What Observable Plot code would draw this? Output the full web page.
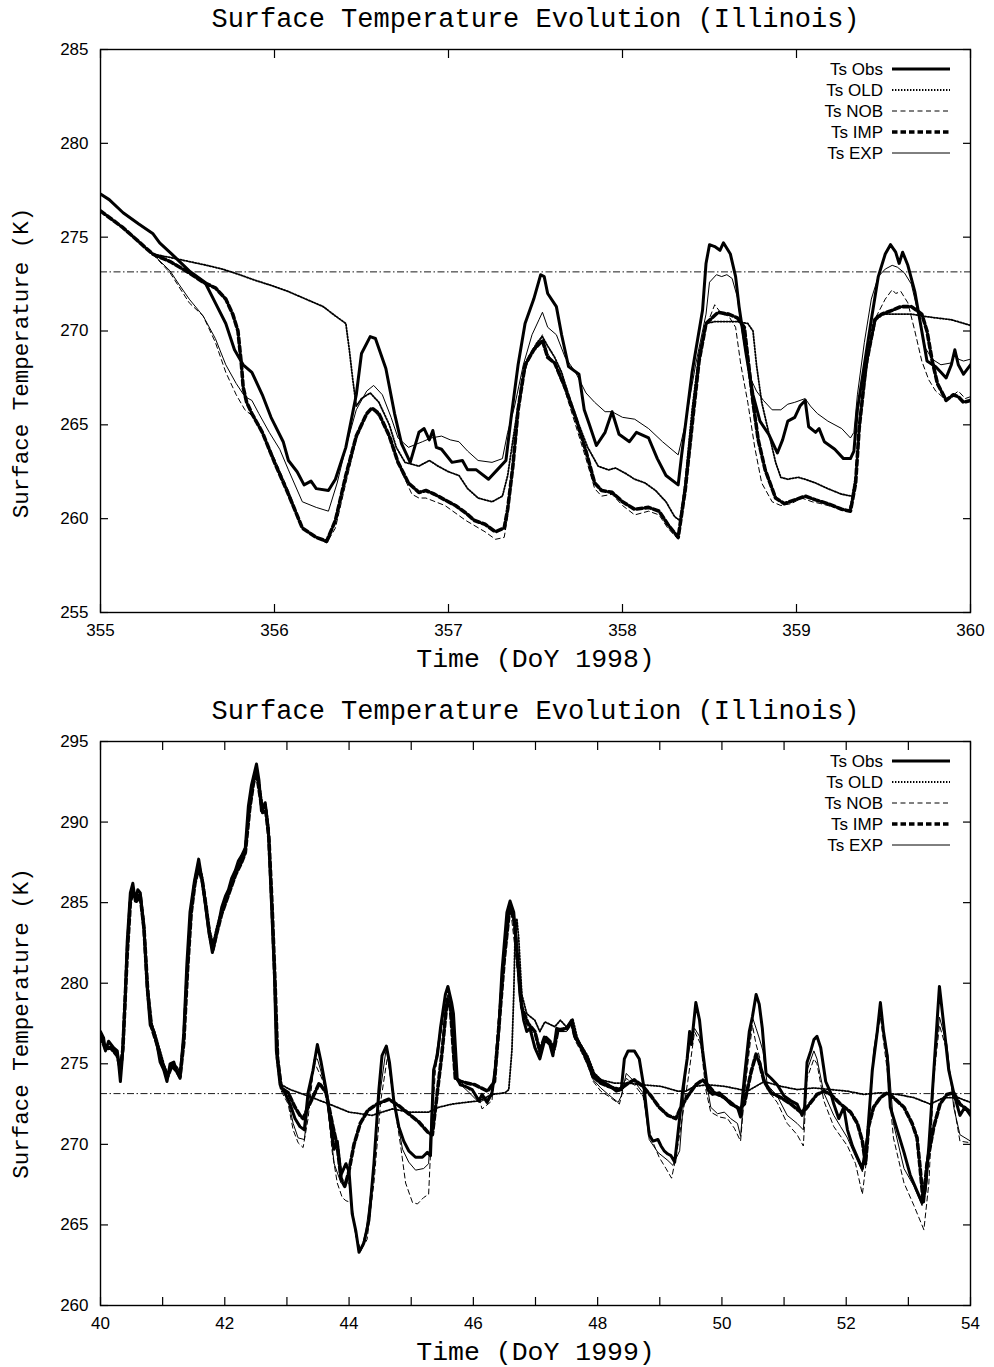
<!DOCTYPE html>
<html><head><meta charset="utf-8">
<script src="https://cdn.jsdelivr.net/npm/d3@7"></script>
<script src="https://cdn.jsdelivr.net/npm/@observablehq/plot@0.6"></script>
<style>body{margin:0;background:#fff} svg{display:block}</style>
</head><body><div id="c"></div>
<script>
// ---------- DATA ----------
const seriesNames = ["Ts Obs", "Ts OLD", "Ts NOB", "Ts IMP", "Ts EXP"];
const freezingK = 273.15;

// Panel 1 : DoY 355-360, 1998
const topXTicks = [355, 356, 357, 358, 359, 360];
const topYTicks = [255, 260, 265, 270, 275, 280, 285];
const topObs = [[355.00,277.3],[355.05,277.0],[355.13,276.3],[355.22,275.7],[355.30,275.2],[355.34,274.7],[355.41,274.1],[355.51,273.2],[355.60,272.6],[355.66,271.5],[355.72,270.4],[355.77,269.0],[355.82,268.2],[355.87,267.8],[355.93,266.6],[355.98,265.4],[356.05,264.1],[356.08,263.1],[356.13,262.5],[356.17,261.8],[356.21,262.0],[356.24,261.6],[356.31,261.5],[356.35,262.1],[356.41,263.8],[356.47,266.6],[356.50,268.8],[356.55,269.7],[356.58,269.6],[356.64,268.0],[356.69,265.6],[356.73,264.0],[356.78,263.0],[356.83,264.6],[356.86,264.8],[356.89,264.2],[356.91,264.7],[356.93,263.8],[356.96,263.7],[357.02,263.0],[357.08,263.1],[357.11,262.6],[357.16,262.6],[357.23,262.1],[357.28,262.6],[357.33,263.1],[357.36,265.4],[357.40,268.2],[357.44,270.4],[357.49,271.7],[357.53,273.0],[357.55,272.9],[357.57,272.0],[357.62,271.3],[357.65,269.8],[357.69,268.1],[357.75,267.7],[357.78,265.8],[357.81,265.0],[357.85,263.9],[357.90,264.6],[357.94,265.7],[357.98,264.5],[358.04,264.1],[358.08,264.6],[358.15,264.3],[358.20,263.2],[358.25,262.3],[358.32,261.8],[358.34,263.4],[358.40,267.8],[358.46,271.1],[358.48,273.6],[358.50,274.6],[358.53,274.5],[358.56,274.3],[358.58,274.7],[358.62,274.1],[358.65,272.9],[358.67,271.3],[358.71,268.8],[358.75,266.6],[358.79,265.2],[358.84,264.5],[358.89,263.5],[358.92,264.2],[358.95,265.2],[358.99,265.4],[359.02,266.0],[359.05,266.3],[359.07,264.9],[359.11,264.6],[359.13,264.8],[359.16,264.1],[359.22,263.7],[359.27,263.2],[359.31,263.2],[359.33,263.6],[359.35,265.8],[359.39,268.2],[359.43,270.6],[359.47,272.9],[359.51,274.1],[359.54,274.6],[359.57,274.2],[359.59,273.6],[359.61,274.2],[359.64,273.5],[359.68,272.1],[359.72,270.0],[359.75,268.4],[359.80,268.1],[359.83,267.8],[359.86,267.5],[359.89,268.2],[359.91,269.0],[359.93,268.2],[359.96,267.7],[360.00,268.2]];
const topOLD = [[355.00,276.4],[355.13,275.5],[355.30,274.1],[355.41,273.9],[355.51,273.7],[355.61,273.5],[355.70,273.3],[355.80,273.0],[355.89,272.7],[355.99,272.4],[356.08,272.1],[356.18,271.7],[356.28,271.3],[356.35,270.8],[356.41,270.4],[356.43,269.0],[356.45,267.4],[356.47,266.0],[356.50,266.4],[356.55,266.7],[356.60,266.2],[356.66,265.0],[356.70,263.8],[356.75,263.0],[356.83,262.8],[356.89,263.1],[356.94,262.8],[357.00,262.5],[357.06,262.3],[357.11,261.6],[357.17,261.1],[357.25,260.9],[357.31,261.2],[357.34,262.3],[357.38,264.8],[357.42,267.2],[357.46,268.6],[357.51,269.4],[357.54,269.7],[357.57,269.2],[357.61,268.6],[357.65,267.8],[357.69,266.6],[357.75,265.0],[357.80,263.8],[357.86,262.8],[357.92,262.6],[357.96,262.7],[358.02,262.4],[358.07,262.1],[358.13,261.9],[358.19,261.5],[358.25,260.9],[358.30,260.1],[358.33,259.9],[358.36,261.9],[358.40,265.8],[358.44,268.8],[358.48,270.4],[358.53,270.5],[358.61,270.5],[358.66,270.5],[358.72,270.4],[358.75,270.0],[358.77,268.2],[358.80,266.2],[358.84,264.6],[358.88,263.0],[358.91,262.2],[358.95,262.1],[359.01,262.2],[359.05,262.1],[359.11,261.9],[359.18,261.6],[359.26,261.3],[359.32,261.2],[359.34,262.3],[359.37,265.8],[359.41,268.6],[359.46,270.8],[359.51,270.9],[359.58,270.9],[359.66,270.9],[359.72,270.8],[359.80,270.7],[359.89,270.6],[360.00,270.3]];
const topNOB = [[355.00,276.4],[355.13,275.5],[355.30,274.1],[355.40,273.1],[355.51,271.5],[355.59,270.8],[355.66,269.4],[355.72,267.8],[355.78,266.6],[355.83,265.8],[355.87,265.5],[355.93,264.6],[356.00,263.2],[356.08,261.5],[356.16,259.5],[356.24,259.0],[356.30,258.7],[356.35,259.5],[356.41,261.9],[356.47,264.2],[356.53,265.6],[356.56,265.9],[356.62,265.2],[356.68,263.8],[356.73,262.5],[356.79,261.3],[356.83,261.1],[356.87,261.1],[356.98,260.7],[357.10,259.9],[357.21,259.3],[357.27,258.9],[357.32,259.0],[357.34,260.1],[357.37,262.6],[357.40,265.6],[357.44,268.0],[357.49,269.0],[357.54,269.8],[357.57,268.8],[357.61,268.2],[357.67,266.8],[357.73,265.0],[357.79,263.2],[357.84,261.6],[357.88,261.2],[357.94,261.3],[358.00,260.7],[358.07,260.2],[358.15,260.4],[358.21,260.2],[358.26,259.5],[358.32,258.9],[358.36,261.3],[358.40,264.8],[358.44,268.2],[358.48,270.2],[358.53,271.4],[358.57,270.9],[358.61,270.8],[358.65,270.2],[358.68,268.2],[358.72,266.2],[358.76,263.8],[358.80,261.9],[358.86,260.9],[358.91,260.7],[358.97,260.8],[359.03,261.1],[359.09,260.9],[359.14,260.8],[359.22,260.6],[359.30,260.4],[359.34,261.9],[359.37,265.8],[359.42,269.0],[359.46,270.8],[359.51,271.7],[359.55,272.2],[359.57,272.0],[359.60,272.1],[359.64,271.5],[359.68,270.0],[359.72,268.4],[359.76,267.4],[359.80,266.8],[359.85,266.4],[359.89,266.5],[359.93,266.8],[359.97,266.4],[360.00,266.5]];
const topIMP = [[355.00,276.4],[355.13,275.5],[355.30,274.1],[355.40,273.7],[355.51,273.1],[355.59,272.6],[355.66,272.3],[355.72,271.7],[355.76,270.9],[355.79,270.0],[355.81,268.2],[355.82,267.0],[355.84,266.2],[355.87,265.6],[355.93,264.6],[356.00,263.0],[356.08,261.3],[356.16,259.5],[356.24,259.0],[356.30,258.8],[356.35,259.9],[356.41,262.3],[356.47,264.4],[356.53,265.6],[356.56,265.9],[356.60,265.6],[356.66,264.4],[356.71,263.0],[356.77,261.9],[356.83,261.4],[356.87,261.5],[356.92,261.3],[356.98,261.0],[357.04,260.7],[357.10,260.3],[357.15,259.9],[357.21,259.7],[357.27,259.3],[357.32,259.5],[357.34,260.5],[357.37,262.8],[357.40,265.8],[357.44,268.2],[357.49,269.0],[357.54,269.5],[357.57,268.6],[357.61,268.3],[357.67,267.0],[357.73,265.4],[357.79,263.6],[357.84,261.9],[357.88,261.5],[357.94,261.4],[358.00,260.9],[358.07,260.5],[358.15,260.6],[358.21,260.4],[358.26,259.7],[358.32,259.0],[358.36,261.5],[358.40,265.0],[358.44,268.4],[358.48,270.4],[358.55,271.0],[358.61,270.9],[358.66,270.7],[358.70,270.2],[358.72,268.6],[358.75,266.2],[358.78,264.2],[358.82,262.6],[358.88,261.1],[358.93,260.8],[358.99,261.0],[359.05,261.2],[359.11,261.0],[359.18,260.8],[359.26,260.5],[359.31,260.4],[359.34,261.9],[359.36,264.8],[359.40,268.2],[359.45,270.6],[359.49,270.9],[359.55,271.1],[359.60,271.3],[359.66,271.3],[359.72,270.9],[359.75,270.0],[359.78,268.4],[359.81,267.2],[359.86,266.3],[359.90,266.6],[359.93,266.5],[359.96,266.2],[360.00,266.3]];
const topEXP = [[355.00,276.4],[355.13,275.5],[355.30,274.1],[355.40,273.2],[355.45,272.5],[355.51,271.7],[355.59,270.8],[355.66,269.6],[355.72,268.2],[355.78,267.2],[355.83,266.5],[355.87,266.3],[355.91,265.6],[355.97,264.6],[356.03,263.7],[356.08,262.6],[356.16,260.9],[356.24,260.6],[356.31,260.4],[356.36,261.9],[356.41,263.8],[356.47,265.8],[356.53,266.8],[356.57,267.1],[356.62,266.6],[356.67,265.4],[356.71,264.3],[356.77,263.8],[356.85,264.1],[356.90,264.3],[356.96,264.4],[357.01,264.2],[357.06,264.1],[357.11,263.6],[357.17,263.1],[357.25,263.0],[357.31,263.2],[357.34,264.6],[357.38,266.0],[357.43,268.2],[357.48,269.8],[357.52,270.6],[357.54,271.0],[357.57,270.2],[357.62,269.8],[357.67,268.6],[357.73,267.8],[357.79,266.7],[357.84,266.2],[357.90,265.7],[357.94,265.7],[358.00,265.4],[358.07,265.3],[358.15,264.8],[358.23,264.1],[358.32,263.4],[358.36,265.0],[358.42,268.2],[358.48,270.9],[358.50,272.6],[358.54,273.0],[358.57,272.9],[358.60,273.0],[358.63,272.8],[358.66,271.8],[358.69,269.8],[358.73,267.6],[358.77,266.8],[358.81,266.3],[358.86,265.8],[358.91,265.8],[358.95,266.1],[358.99,266.2],[359.05,266.4],[359.08,266.0],[359.12,265.6],[359.18,265.2],[359.26,264.8],[359.31,264.3],[359.33,264.6],[359.35,266.6],[359.39,269.4],[359.43,271.7],[359.47,272.9],[359.51,273.3],[359.55,273.5],[359.58,273.4],[359.62,273.1],[359.66,272.5],[359.70,270.9],[359.74,269.1],[359.78,268.5],[359.83,268.2],[359.89,268.3],[359.91,268.9],[359.93,268.5],[359.96,268.4],[360.00,268.5]];

// Panel 2 : DoY 40-54, 1999
const botXTicks = [40,41,42,43,44,45,46,47,48,49,50,51,52,53,54];
const botXLabels = [40, 42, 44, 46, 48, 50, 52, 54];
const botYTicks = [260, 265, 270, 275, 280, 285, 290, 295];
const botObs = [[40.00,277.0],[40.05,276.6],[40.08,275.8],[40.13,276.4],[40.21,276.0],[40.27,275.8],[40.29,275.1],[40.32,273.9],[40.35,275.3],[40.40,279.3],[40.43,282.6],[40.48,285.6],[40.52,286.2],[40.56,285.1],[40.60,285.8],[40.64,285.6],[40.70,283.3],[40.75,279.8],[40.80,277.4],[40.86,277.0],[40.91,276.2],[40.96,275.1],[41.02,274.6],[41.07,273.9],[41.12,275.0],[41.18,275.1],[41.23,274.5],[41.28,274.1],[41.34,276.9],[41.39,281.2],[41.44,284.4],[41.51,286.3],[41.58,287.7],[41.63,286.5],[41.68,285.1],[41.74,283.3],[41.80,281.9],[41.84,282.6],[41.90,283.7],[41.95,284.7],[42.01,285.4],[42.06,285.8],[42.11,286.5],[42.17,287.0],[42.22,287.6],[42.27,287.9],[42.33,288.4],[42.38,291.0],[42.43,292.3],[42.51,293.6],[42.55,292.6],[42.59,290.7],[42.65,291.2],[42.70,289.6],[42.75,285.1],[42.80,280.5],[42.83,275.8],[42.89,273.7],[42.97,273.2],[43.05,272.5],[43.13,271.6],[43.21,271.1],[43.28,270.9],[43.34,273.2],[43.42,274.6],[43.49,276.2],[43.55,275.1],[43.63,273.4],[43.71,271.1],[43.76,269.7],[43.81,270.2],[43.87,268.1],[43.95,268.8],[44.00,268.3],[44.05,265.7],[44.11,264.6],[44.16,263.3],[44.24,263.9],[44.32,265.3],[44.40,268.8],[44.48,273.4],[44.53,275.5],[44.60,276.1],[44.65,275.1],[44.72,272.7],[44.80,271.1],[44.88,270.2],[44.96,269.6],[45.07,269.2],[45.18,269.2],[45.26,269.5],[45.31,269.3],[45.36,274.6],[45.42,275.5],[45.47,277.2],[45.55,279.3],[45.59,279.8],[45.65,278.8],[45.68,278.1],[45.74,274.1],[45.79,273.7],[45.87,273.6],[45.98,273.4],[46.09,272.7],[46.14,273.1],[46.22,272.6],[46.30,273.2],[46.35,274.6],[46.41,277.2],[46.46,280.7],[46.54,284.4],[46.59,285.1],[46.65,284.4],[46.70,282.1],[46.75,279.3],[46.81,277.7],[46.86,277.0],[46.91,277.2],[46.99,276.0],[47.07,275.3],[47.15,276.5],[47.23,276.2],[47.28,275.5],[47.34,277.2],[47.42,277.1],[47.50,277.2],[47.58,277.7],[47.63,276.7],[47.74,276.0],[47.84,275.3],[47.93,274.4],[48.03,274.0],[48.17,273.7],[48.30,273.3],[48.38,273.4],[48.43,275.3],[48.49,275.8],[48.59,275.8],[48.67,275.3],[48.75,273.4],[48.83,270.6],[48.89,270.2],[48.97,270.3],[49.02,269.9],[49.07,269.6],[49.13,269.4],[49.18,269.3],[49.24,268.9],[49.29,270.6],[49.37,273.4],[49.44,275.3],[49.48,277.0],[49.51,276.2],[49.58,278.8],[49.64,277.7],[49.69,275.8],[49.77,273.4],[49.85,273.1],[49.96,273.2],[50.04,272.9],[50.14,272.5],[50.25,272.3],[50.30,271.7],[50.36,274.1],[50.44,277.0],[50.49,277.9],[50.55,279.3],[50.60,278.7],[50.65,277.2],[50.71,274.4],[50.79,274.1],[50.89,273.7],[51.00,273.0],[51.11,272.7],[51.21,272.5],[51.29,271.8],[51.33,272.3],[51.37,275.1],[51.43,275.8],[51.48,276.5],[51.53,276.7],[51.59,276.0],[51.67,273.9],[51.75,273.2],[51.80,272.5],[51.88,271.6],[51.96,272.3],[52.02,270.9],[52.10,269.9],[52.18,269.2],[52.26,268.5],[52.34,270.4],[52.42,274.6],[52.50,277.0],[52.55,278.8],[52.60,277.0],[52.66,275.5],[52.71,272.3],[52.82,270.9],[52.93,269.5],[53.03,268.1],[53.14,267.1],[53.22,266.4],[53.27,267.1],[53.33,269.9],[53.41,274.6],[53.50,279.8],[53.57,277.4],[53.65,274.6],[53.73,273.2],[53.83,271.8],[53.91,272.3],[54.00,271.8]];
const botOLD = [[40.00,276.9],[40.08,276.1],[40.16,276.0],[40.27,275.7],[40.32,274.6],[40.36,276.2],[40.43,282.3],[40.48,285.4],[40.52,285.9],[40.58,285.2],[40.64,285.6],[40.70,283.9],[40.76,279.9],[40.82,277.6],[40.91,276.5],[41.02,275.0],[41.08,274.4],[41.15,275.1],[41.23,274.8],[41.28,274.5],[41.34,276.8],[41.40,281.4],[41.46,284.9],[41.52,286.6],[41.58,287.5],[41.64,286.6],[41.70,285.0],[41.76,283.3],[41.81,282.5],[41.87,283.5],[41.95,284.6],[42.06,285.8],[42.17,287.0],[42.27,287.8],[42.33,288.5],[42.40,291.2],[42.46,292.8],[42.51,293.4],[42.56,292.3],[42.61,291.0],[42.66,291.1],[42.71,289.5],[42.76,285.2],[42.81,280.2],[42.85,275.6],[42.91,273.7],[43.05,273.4],[43.34,273.0],[43.68,272.5],[44.00,272.0],[44.37,271.8],[44.53,272.0],[44.70,272.2],[44.96,272.0],[45.28,272.0],[45.44,272.3],[45.66,272.5],[45.87,272.6],[46.09,272.7],[46.30,273.1],[46.51,273.2],[46.57,273.4],[46.62,275.8],[46.65,279.3],[46.67,282.8],[46.70,284.0],[46.73,282.8],[46.78,279.3],[46.86,278.1],[46.99,277.7],[47.07,277.0],[47.15,277.6],[47.31,277.3],[47.40,277.7],[47.52,277.2],[47.60,277.8],[47.68,276.5],[47.84,275.5],[47.95,274.4],[48.06,274.0],[48.27,273.8],[48.49,273.8],[48.70,273.7],[49.02,273.6],[49.29,273.3],[49.42,273.3],[49.56,273.6],[49.77,273.7],[50.04,273.6],[50.30,273.4],[50.41,273.3],[50.68,273.9],[50.95,273.6],[51.21,273.4],[51.48,273.5],[51.75,273.4],[52.02,273.3],[52.28,273.1],[52.55,273.2],[52.82,273.1],[53.09,272.9],[53.35,272.5],[53.57,272.9],[53.80,272.9],[54.00,272.6]];
const botNOB = [[40.00,276.9],[40.08,276.1],[40.16,276.2],[40.27,275.7],[40.32,274.6],[40.36,276.2],[40.43,282.2],[40.48,285.3],[40.52,285.9],[40.58,285.4],[40.64,285.6],[40.70,283.8],[40.76,279.8],[40.82,277.5],[40.91,276.4],[41.02,274.9],[41.08,274.4],[41.15,275.1],[41.23,274.7],[41.28,274.4],[41.34,276.6],[41.40,281.2],[41.46,284.8],[41.52,286.5],[41.58,287.5],[41.64,286.5],[41.70,284.9],[41.76,283.1],[41.81,282.3],[41.87,283.3],[41.95,284.5],[42.06,285.7],[42.17,286.9],[42.27,287.7],[42.33,288.3],[42.40,291.1],[42.46,292.7],[42.51,293.4],[42.56,292.1],[42.61,290.9],[42.66,291.0],[42.71,289.3],[42.76,284.9],[42.81,279.9],[42.85,275.1],[42.91,273.3],[43.02,272.5],[43.10,270.9],[43.18,270.1],[43.26,269.8],[43.34,271.6],[43.44,275.1],[43.55,274.2],[43.63,273.4],[43.73,269.5],[43.81,267.6],[43.89,266.7],[43.95,266.5],[44.03,266.4],[44.11,264.3],[44.19,263.4],[44.29,264.1],[44.40,267.6],[44.51,272.7],[44.62,275.5],[44.72,272.7],[44.83,269.9],[44.91,267.6],[45.02,266.4],[45.10,266.3],[45.20,266.7],[45.28,266.9],[45.33,271.1],[45.39,274.6],[45.50,277.4],[45.60,279.3],[45.74,274.1],[45.93,273.4],[46.09,272.9],[46.14,272.2],[46.30,272.7],[46.46,280.5],[46.59,284.9],[46.78,278.4],[46.88,277.2],[46.99,276.8],[47.07,275.5],[47.15,276.5],[47.23,276.2],[47.30,275.7],[47.36,277.0],[47.50,277.0],[47.58,277.4],[47.63,276.5],[47.74,275.7],[47.84,274.9],[47.93,273.9],[48.05,273.3],[48.17,273.0],[48.35,272.5],[48.46,274.1],[48.59,273.7],[48.73,273.0],[48.86,270.4],[48.99,269.2],[49.10,268.5],[49.19,267.9],[49.26,269.2],[49.34,271.1],[49.45,273.9],[49.56,277.0],[49.66,276.2],[49.74,273.4],[49.82,272.0],[49.96,271.7],[50.09,271.6],[50.20,271.0],[50.30,270.2],[50.36,273.0],[50.44,275.8],[50.49,277.4],[50.55,276.2],[50.60,275.5],[50.66,274.5],[50.73,273.4],[50.89,272.6],[51.05,271.3],[51.21,270.6],[51.31,269.9],[51.37,274.1],[51.48,275.3],[51.53,275.0],[51.64,272.7],[51.80,271.1],[52.02,269.9],[52.15,268.8],[52.26,266.9],[52.34,269.5],[52.44,275.5],[52.55,277.9],[52.66,274.6],[52.76,270.4],[52.93,267.6],[53.09,266.2],[53.25,264.7],[53.33,267.6],[53.41,274.1],[53.50,277.4],[53.62,275.8],[53.76,271.8],[53.83,270.2],[54.00,270.1]];
const botIMP = [[40.00,276.7],[40.08,275.9],[40.16,276.0],[40.27,275.5],[40.32,274.7],[40.36,275.9],[40.43,281.8],[40.48,285.0],[40.52,285.7],[40.58,285.1],[40.64,285.4],[40.70,283.4],[40.76,279.5],[40.82,277.3],[40.91,276.2],[41.02,274.7],[41.08,274.2],[41.15,274.9],[41.23,274.5],[41.28,274.2],[41.34,276.3],[41.40,280.8],[41.46,284.4],[41.52,286.2],[41.58,287.2],[41.64,286.3],[41.70,284.7],[41.76,282.9],[41.81,282.1],[41.87,283.1],[41.95,284.3],[42.06,285.5],[42.17,286.7],[42.27,287.5],[42.33,288.1],[42.40,290.8],[42.46,292.4],[42.51,293.1],[42.56,291.8],[42.61,290.6],[42.66,290.7],[42.71,289.0],[42.76,284.9],[42.81,279.9],[42.85,275.3],[42.91,273.5],[43.02,273.2],[43.13,272.3],[43.21,271.8],[43.26,271.6],[43.34,272.3],[43.45,273.2],[43.52,273.8],[43.63,273.2],[43.74,271.1],[43.81,269.9],[43.87,267.9],[43.93,267.4],[43.99,268.2],[44.08,270.0],[44.18,271.3],[44.30,272.1],[44.45,272.5],[44.64,272.8],[44.80,272.4],[44.96,271.9],[45.12,271.4],[45.28,270.7],[45.34,270.6],[45.41,272.9],[45.49,275.5],[45.58,279.0],[45.63,278.5],[45.71,274.1],[45.80,273.9],[46.02,273.7],[46.23,273.3],[46.34,273.9],[46.50,281.6],[46.59,284.9],[46.66,283.8],[46.78,278.5],[46.88,277.5],[46.99,277.0],[47.07,275.8],[47.15,276.7],[47.23,276.4],[47.30,275.9],[47.36,277.1],[47.50,277.2],[47.58,277.6],[47.63,276.8],[47.74,276.0],[47.84,275.1],[47.93,274.2],[48.05,273.8],[48.17,273.6],[48.35,273.4],[48.49,273.8],[48.59,274.0],[48.73,273.6],[48.86,273.0],[48.99,272.3],[49.13,271.8],[49.26,271.6],[49.34,272.3],[49.45,273.0],[49.58,273.7],[49.69,274.0],[49.77,273.7],[49.88,273.2],[50.04,272.9],[50.17,272.5],[50.28,272.2],[50.36,272.5],[50.47,274.5],[50.55,275.6],[50.60,275.1],[50.68,273.9],[50.79,273.2],[50.95,272.9],[51.11,272.5],[51.27,272.0],[51.35,272.2],[51.43,272.6],[51.53,273.1],[51.64,273.3],[51.75,273.1],[51.91,272.5],[52.07,272.0],[52.18,271.3],[52.26,270.2],[52.31,268.8],[52.36,271.1],[52.44,272.3],[52.55,272.9],[52.66,273.2],[52.76,272.9],[52.93,272.3],[53.06,271.3],[53.14,270.4],[53.19,268.5],[53.24,266.4],[53.30,268.8],[53.41,271.1],[53.51,272.5],[53.62,273.1],[53.73,273.2],[53.83,272.5],[54.00,272.0]];
const botEXP = [[40.00,276.8],[40.08,276.0],[40.16,276.1],[40.27,275.6],[40.32,274.5],[40.36,276.0],[40.43,282.0],[40.48,285.2],[40.52,285.8],[40.58,285.3],[40.64,285.5],[40.70,283.6],[40.76,279.6],[40.82,277.4],[40.91,276.3],[41.02,274.8],[41.08,274.3],[41.15,275.0],[41.23,274.6],[41.28,274.3],[41.34,276.5],[41.40,281.0],[41.46,284.6],[41.52,286.4],[41.58,287.4],[41.64,286.4],[41.70,284.8],[41.76,283.0],[41.81,282.2],[41.87,283.2],[41.95,284.4],[42.06,285.6],[42.17,286.8],[42.27,287.6],[42.33,288.2],[42.40,291.0],[42.46,292.6],[42.51,293.3],[42.56,292.0],[42.61,290.8],[42.66,290.9],[42.71,289.2],[42.76,284.8],[42.81,279.8],[42.85,275.0],[42.91,273.4],[43.02,272.7],[43.10,271.3],[43.18,270.4],[43.28,270.3],[43.34,272.3],[43.44,275.3],[43.49,275.3],[43.55,274.5],[43.63,273.2],[43.76,268.8],[43.87,267.6],[44.00,267.6],[44.11,264.3],[44.19,263.4],[44.27,264.6],[44.37,267.6],[44.48,272.7],[44.60,276.0],[44.72,272.7],[44.86,269.7],[44.96,268.9],[45.07,268.4],[45.20,268.5],[45.28,268.8],[45.36,274.6],[45.47,277.2],[45.59,279.3],[45.65,278.5],[45.74,273.9],[45.91,273.3],[46.09,272.6],[46.30,273.0],[46.41,277.0],[46.50,282.5],[46.59,284.9],[46.65,284.0],[46.78,278.6],[46.88,277.4],[46.99,277.0],[47.07,275.6],[47.15,276.6],[47.23,276.3],[47.30,275.8],[47.36,277.0],[47.50,277.0],[47.58,277.5],[47.63,276.6],[47.74,275.8],[47.84,275.0],[47.93,274.0],[48.05,273.5],[48.17,273.1],[48.33,272.6],[48.38,273.0],[48.46,274.4],[48.59,273.9],[48.73,273.2],[48.83,270.3],[48.97,269.5],[49.13,269.0],[49.21,268.7],[49.32,269.6],[49.42,274.6],[49.50,276.5],[49.56,277.2],[49.64,276.7],[49.72,274.6],[49.82,272.3],[49.93,271.9],[50.04,272.0],[50.14,271.6],[50.25,271.3],[50.30,270.5],[50.36,273.2],[50.44,276.2],[50.49,277.9],[50.55,277.2],[50.60,276.6],[50.66,275.8],[50.73,273.7],[50.89,273.0],[51.05,271.8],[51.21,271.3],[51.31,270.9],[51.37,274.6],[51.48,275.8],[51.53,275.3],[51.64,273.2],[51.80,271.8],[51.91,271.1],[52.02,270.4],[52.12,269.5],[52.26,268.3],[52.34,269.9],[52.44,275.8],[52.55,278.4],[52.60,277.0],[52.68,275.3],[52.76,271.3],[52.93,268.5],[53.09,267.4],[53.22,266.2],[53.30,267.6],[53.41,274.6],[53.50,277.9],[53.62,276.2],[53.73,272.3],[53.83,270.6],[54.00,270.2]];

// ---------- STYLE ----------
const lineStyles = [
  {strokeWidth: 3},
  {strokeWidth: 1.8, strokeDasharray: "1.4,1.6"},
  {strokeWidth: 1, strokeDasharray: "5,3.5"},
  {strokeWidth: 3.6, strokeDasharray: "5.5,3"},
  {strokeWidth: 1}
];
const mono = "'Courier New','Liberation Mono',monospace";
const sans = "'Liberation Sans',Arial,Helvetica,sans-serif";

function panel(cfg) {
  const {series, xDomain, yDomain, xTicks, xLabels, yTicks, title, xLabel, height, mt, mb, yLabelShift} = cfg;
  const ml = 100, mr = 24;
  const tickOpts = {tickSize: 8, tickFormat: () => "", label: null, strokeWidth: 1.2};
  const lblOpts = {tickSize: 0, label: null, fontSize: 17, fontFamily: sans, fill: "#000", tickFormat: d => String(d)};
  const svg = Plot.plot({
    width: 994, height,
    marginTop: mt, marginBottom: mb, marginLeft: ml, marginRight: mr,
    style: {fontFamily: sans, fontSize: "17px", background: "#fff", color: "#000"},
    x: {domain: xDomain},
    y: {domain: yDomain},
    marks: [
      Plot.ruleY([freezingK], {stroke: "#000", strokeWidth: 0.9, strokeDasharray: "7,2.5,1.5,2.5"}),
      ...series.map((s, i) => Plot.line(s, {x: d => d[0], y: d => d[1], stroke: "#000", clip: true, strokeLinejoin: "round", ...lineStyles[i]})),
      Plot.frame({stroke: "#000", strokeWidth: 1.4}),
      Plot.axisX(xTicks, {anchor: "bottom", dy: -8, ...tickOpts}),
      Plot.axisX(xTicks, {anchor: "top", dy: 8, ...tickOpts}),
      Plot.axisY(yTicks, {anchor: "left", dx: 8, ...tickOpts}),
      Plot.axisY(yTicks, {anchor: "right", dx: -8, ...tickOpts}),
      Plot.axisX(xLabels, {anchor: "bottom", tickPadding: 11, ...lblOpts}),
      Plot.axisY(yTicks, {anchor: "left", tickPadding: 12, ...lblOpts}),
      Plot.text([title], {frameAnchor: "top", dy: -31, text: d => d, fontFamily: mono, fontSize: 27, fill: "#000", lineAnchor: "middle"}),
      Plot.text([xLabel], {frameAnchor: "bottom", dy: 46, text: d => d, fontFamily: mono, fontSize: 26.5, fill: "#000", lineAnchor: "middle"}),
      Plot.text(["Surface Temperature (K)"], {frameAnchor: "left", dx: -80, dy: yLabelShift, rotate: -90, textAnchor: "middle", text: d => d, fontFamily: mono, fontSize: 22.5, fill: "#000", lineAnchor: "middle"})
    ]
  });
  // legend (layout element)
  const g = d3.select(svg).append("g");
  const right = 994 - mr;
  seriesNames.forEach((name, i) => {
    const y = mt + 20 + 21 * i;
    g.append("text").attr("x", right - 87).attr("y", y).attr("text-anchor", "end")
      .attr("dominant-baseline", "central").attr("font-family", sans).attr("font-size", 17).attr("fill", "#000").text(name);
    const st = lineStyles[i];
    g.append("line").attr("x1", right - 78).attr("x2", right - 20).attr("y1", y).attr("y2", y)
      .attr("stroke", "#000").attr("stroke-width", st.strokeWidth).attr("stroke-dasharray", st.strokeDasharray || null);
  });
  return svg;
}

const c = document.getElementById("c");
c.appendChild(panel({
  series: [topObs, topOLD, topNOB, topIMP, topEXP],
  xDomain: [355, 360], yDomain: [255, 285],
  xTicks: topXTicks, xLabels: topXTicks, yTicks: topYTicks,
  title: "Surface Temperature Evolution (Illinois)", xLabel: "Time (DoY 1998)",
  height: 686, mt: 49, mb: 74, yLabelShift: 32
}));
c.appendChild(panel({
  series: [botObs, botOLD, botNOB, botIMP, botEXP],
  xDomain: [40, 54], yDomain: [260, 295],
  xTicks: botXTicks, xLabels: botXLabels, yTicks: botYTicks,
  title: "Surface Temperature Evolution (Illinois)", xLabel: "Time (DoY 1999)",
  height: 681, mt: 55, mb: 62, yLabelShift: 0
}));
</script>
</body></html>
